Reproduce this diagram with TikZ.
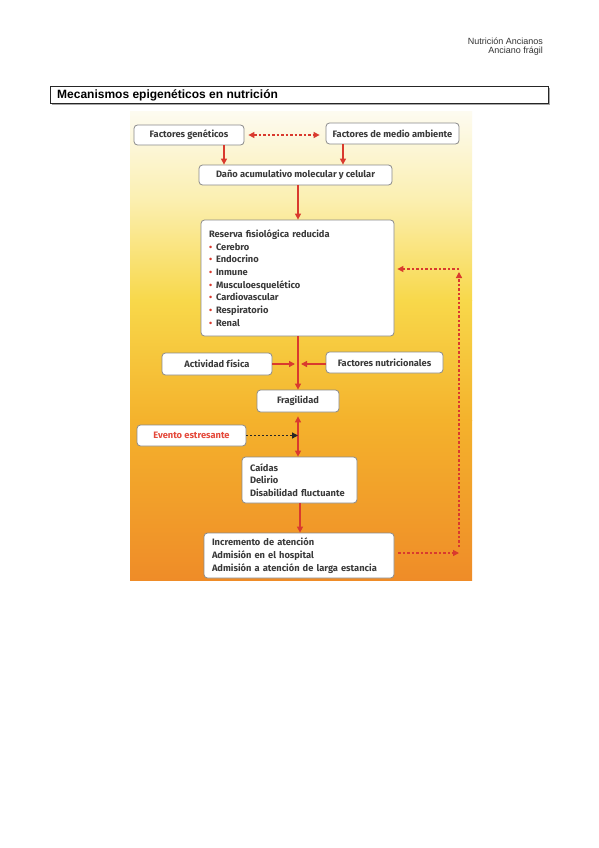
\documentclass[tikz,border=0pt]{standalone}
\usepackage{fontspec}
\setmainfont{Fira Sans}
\newfontfamily\arialf{Liberation Sans}
\usetikzlibrary{arrows.meta,calc}
\definecolor{ared}{HTML}{D93A2E}
\definecolor{evred}{HTML}{E4483A}
\definecolor{txt}{HTML}{3A3A3A}
\definecolor{boxline}{HTML}{8A8A8A}
\definecolor{bgA}{HTML}{FDFBF0}
\definecolor{bgB}{HTML}{FBEFB0}
\definecolor{bgC}{HTML}{F8D84A}
\definecolor{bgD}{HTML}{F4B22C}
\definecolor{bgE}{HTML}{EF8C28}
\newcommand{\bul}{\makebox[7pt][l]{\color{ared}\small•}}
\begin{document}
\begin{tikzpicture}[x=1pt,y=-1pt,
  box/.style={draw=boxline, line width=0.8pt, fill=white, rounded corners=3.5pt,
    inner sep=0pt, font=\fontsize{9.3}{12.7}\selectfont\bfseries, text=txt},
  arr/.style={draw=ared, line width=1.3pt, -{Triangle[length=6pt,width=6pt]}},
  redline/.style={draw=ared, line width=1.3pt},
  reddash/.style={draw=ared, line width=1.3pt, dash pattern=on 2.5pt off 2pt},
  blackdot/.style={draw=black!85, line width=1.3pt, dash pattern=on 2pt off 2pt, -{Triangle[length=6pt,width=6pt]}},
  hdr/.style={font=\arialf\fontsize{9}{10}\selectfont, text=black!80, inner sep=0pt}
]
\useasboundingbox (0,0) rectangle (599,848);
\fill[white] (0,0) rectangle (599,848);

% header
\node[hdr, anchor=east] (h1) at (543,41) {Nutrición Ancianos};
\node[hdr, anchor=east] (h2) at (543,51) {Anciano frágil};

% title box
\draw[gray!70, line width=1pt] (51.5,104.8) -- (549.8,104.8) -- (549.8,88);
\draw[black!85, line width=1pt] (50,87) rectangle (548.5,103.5);
\node[anchor=west, inner sep=0pt, font=\arialf\bfseries\fontsize{12}{13}\selectfont] (title) at (57,95.5) {Mecanismos epigenéticos en nutrición};

% background gradient
\shade[top color=bgA, bottom color=bgB] (130,112) rectangle (472,200.5);
\shade[top color=bgB, bottom color=bgC] (130,200) rectangle (472,300.5);
\shade[top color=bgC, bottom color=bgD] (130,300) rectangle (472,420.5);
\shade[top color=bgD, bottom color=bgE] (130,420) rectangle (472,580);

% nodes
\node[box, minimum width=110pt, minimum height=20pt] (gen) at (189,135) {Factores genéticos};
\node[box, minimum width=133pt, minimum height=21pt] (amb) at (392.5,133.5) {Factores de medio ambiente};
\node[box, minimum width=193pt, minimum height=20pt] (dano) at (295.5,175) {Daño acumulativo molecular y celular};
\node[box, minimum width=193pt, minimum height=116pt, text width=177pt, align=left] (res) at (297.5,278)
  {Reserva fisiológica reducida\\
   \bul Cerebro\\ \bul Endocrino\\ \bul Inmune\\ \bul Musculoesquelético\\
   \bul Cardiovascular\\ \bul Respiratorio\\ \bul Renal};
\node[box, minimum width=110pt, minimum height=22pt] (act) at (217,364) {Actividad física};
\node[box, minimum width=117pt, minimum height=21pt] (nut) at (384.5,362.5) {Factores nutricionales};
\node[box, minimum width=82pt, minimum height=22pt] (fra) at (298,401) {Fragilidad};
\node[box, minimum width=109pt, minimum height=21pt, text=evred] (eve) at (191.5,435.5) {Evento estresante};
\node[box, minimum width=115pt, minimum height=46pt, text width=99pt, align=left] (cai) at (299.5,480)
  {Caídas\\ Delirio\\ Disabilidad fluctuante};
\node[box, minimum width=190pt, minimum height=45pt, text width=174pt, align=left] (inc) at (299,555.5)
  {Incremento de atención\\ Admisión en el hospital\\ Admisión a atención de larga estancia};

% helper coordinates
\coordinate (g1) at (224,0);
\coordinate (a1) at (343,0);
\coordinate (m1) at (298,0);
\coordinate (m2) at (300,0);
\coordinate (c1) at (459,553);
\coordinate (c2) at (459,269);

% connectors
\draw[reddash, {Triangle[length=6pt,width=6pt]}-{Triangle[length=6pt,width=6pt]}, shorten <=4pt, shorten >=6pt] (gen.east) -- (gen.east -| amb.west);
\draw[arr] (gen.south -| g1) -- (dano.north -| g1);
\draw[arr] (amb.south -| a1) -- (dano.north -| a1);
\draw[arr] (dano.south -| m1) -- (res.north -| m1);
\draw[arr] (res.south -| m1) -- (fra.north -| m1);
\draw[arr, shorten >=3pt] (act.east) -- (act.east -| m1);
\draw[arr, shorten >=3pt] (act.east -| nut.west) -- (act.east -| m1);
\draw[redline, {Triangle[length=6pt,width=6pt]}-{Triangle[length=6pt,width=6pt]}, shorten <=4pt, shorten >=0pt] (fra.south -| m1) -- (cai.north -| m1);
\draw[blackdot, shorten >=0pt] (eve.east) -- (eve.east -| m1);
\draw[arr] (cai.south -| m2) -- (inc.north -| m2);
\draw[reddash, -{Triangle[length=6pt,width=6pt]}, shorten <=4pt] (inc.east |- c1) -- (c1);
\draw[reddash, -{Triangle[length=6pt,width=6pt]}, shorten <=6pt, shorten >=3pt] (c1) -- (c2);
\draw[reddash, -{Triangle[length=6pt,width=6pt]}, shorten >=3pt] (c2) -- (res.east |- c2);
\end{tikzpicture}
\end{document}
